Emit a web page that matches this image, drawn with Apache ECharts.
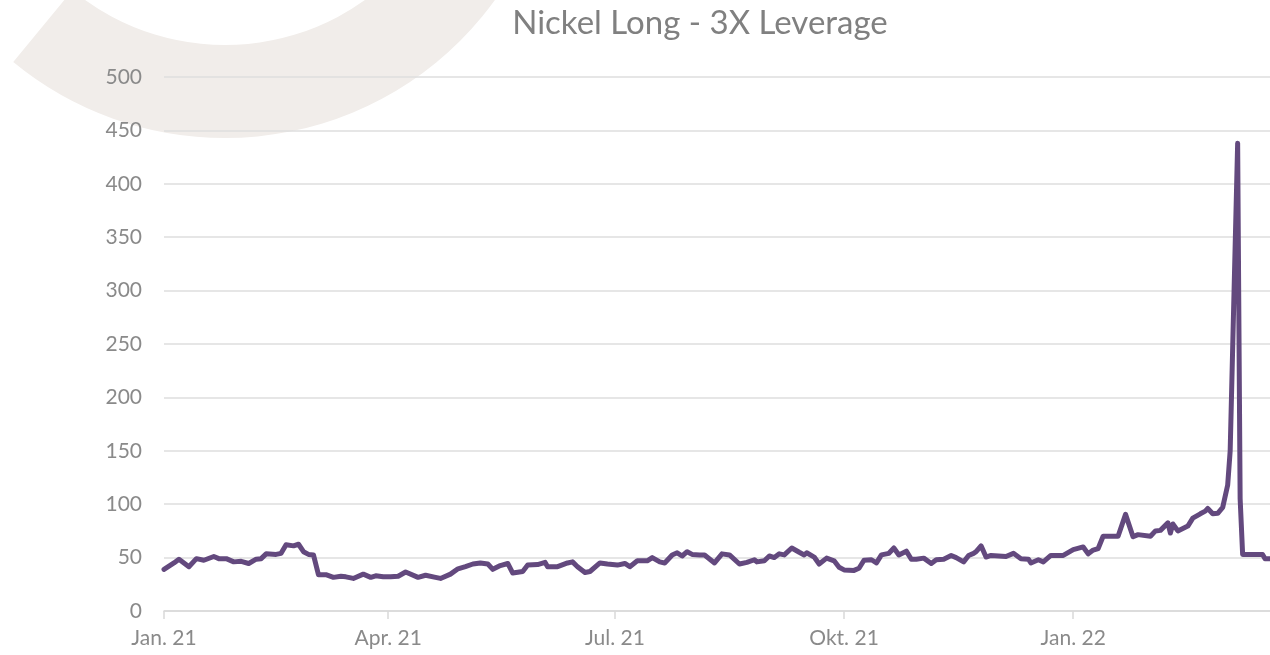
<!DOCTYPE html>
<html>
<head>
<meta charset="utf-8">
<title>Nickel Long - 3X Leverage</title>
<script src="https://cdn.jsdelivr.net/npm/echarts@6/dist/echarts.min.js"></script>
<style>
  html, body { margin: 0; padding: 0; background: #fff; }
  #chart { width: 1270px; height: 655px; }
</style>
</head>
<body>
<div id="chart"></div>
<script>
// values (approximate)
const dates = [
  '2021-01-01', '2021-01-05', '2021-01-07', '2021-01-11', '2021-01-14', '2021-01-17', '2021-01-21', '2021-01-23', '2021-01-26', '2021-01-29',
  '2021-02-01', '2021-02-04', '2021-02-07', '2021-02-09', '2021-02-11', '2021-02-15', '2021-02-17', '2021-02-19', '2021-02-22', '2021-02-24', '2021-02-26', '2021-02-28',
  '2021-03-02', '2021-03-04', '2021-03-07', '2021-03-10', '2021-03-13', '2021-03-15', '2021-03-18', '2021-03-22', '2021-03-25', '2021-03-27', '2021-03-30',
  '2021-04-02', '2021-04-05', '2021-04-08', '2021-04-13', '2021-04-16', '2021-04-20', '2021-04-22', '2021-04-26', '2021-04-29',
  '2021-05-02', '2021-05-05', '2021-05-08', '2021-05-11', '2021-05-13', '2021-05-16', '2021-05-19', '2021-05-21', '2021-05-25', '2021-05-27', '2021-05-31',
  '2021-06-03', '2021-06-04', '2021-06-08', '2021-06-12', '2021-06-14', '2021-06-16', '2021-06-19', '2021-06-21', '2021-06-25', '2021-06-28',
  '2021-07-02', '2021-07-05', '2021-07-07', '2021-07-10', '2021-07-14', '2021-07-16', '2021-07-19', '2021-07-21', '2021-07-24', '2021-07-26', '2021-07-28', '2021-07-30',
  '2021-08-01', '2021-08-04', '2021-08-06', '2021-08-10', '2021-08-13', '2021-08-16', '2021-08-20', '2021-08-23', '2021-08-26', '2021-08-27', '2021-08-30',
  '2021-09-01', '2021-09-03', '2021-09-05', '2021-09-07', '2021-09-10', '2021-09-13', '2021-09-15', '2021-09-16', '2021-09-19', '2021-09-21', '2021-09-24', '2021-09-27', '2021-09-29',
  '2021-10-01', '2021-10-05', '2021-10-07', '2021-10-09', '2021-10-12', '2021-10-14', '2021-10-16', '2021-10-19', '2021-10-21', '2021-10-23', '2021-10-26', '2021-10-28', '2021-10-30',
  '2021-11-02', '2021-11-05', '2021-11-07', '2021-11-10', '2021-11-13', '2021-11-15', '2021-11-18', '2021-11-20', '2021-11-22', '2021-11-23', '2021-11-25', '2021-11-27', '2021-11-29',
  '2021-12-02', '2021-12-05', '2021-12-08', '2021-12-11', '2021-12-14', '2021-12-15', '2021-12-18', '2021-12-20', '2021-12-23', '2021-12-28',
  '2022-01-01', '2022-01-05', '2022-01-07', '2022-01-09', '2022-01-11', '2022-01-13', '2022-01-19', '2022-01-22', '2022-01-25', '2022-01-27',
  '2022-02-01', '2022-02-03', '2022-02-05', '2022-02-08', '2022-02-09', '2022-02-10', '2022-02-12', '2022-02-16', '2022-02-18', '2022-02-21', '2022-02-23', '2022-02-24', '2022-02-26', '2022-02-28',
  '2022-03-02', '2022-03-04', '2022-03-05', '2022-03-08', '2022-03-09', '2022-03-10', '2022-03-14', '2022-03-18', '2022-03-19', '2022-03-23'
]
const values = [
  39, 45, 48.5, 41.5, 49, 47.5, 51, 49, 49, 46,
  46.5, 44.5, 48.5, 49, 53.5, 53, 54, 62, 61, 62.5, 55.5, 53,
  52.5, 34, 34, 31.5, 32.5, 32, 30.5, 34.5, 31.5, 33, 32,
  32, 32.5, 36.5, 31.5, 33.5, 31.5, 30.5, 34.5, 39.5,
  41.5, 44, 45, 44, 39, 42.5, 44.5, 35.5, 37, 43, 43.5,
  45.5, 41.5, 41.5, 45, 46, 41.5, 36, 37, 45, 44,
  43, 44.5, 41.5, 47, 47, 50, 46, 45, 52.5, 54.5, 51.5, 55.5,
  53, 52.5, 52.5, 45, 53.5, 52.5, 44, 45.5, 48, 46, 47,
  51.5, 50, 53.5, 52.5, 59, 55, 52.5, 54.5, 50.5, 44, 49.5, 47, 41,
  38.5, 38, 40, 47.5, 48, 45, 52.5, 54, 59, 52.5, 56, 48.5, 48.5,
  49.5, 44.5, 48, 48.5, 52, 50, 46, 52, 54, 55.5, 61, 50.5, 52,
  51.5, 51, 54, 49, 48.5, 45, 48, 46, 52, 52,
  57.5, 60, 53.5, 57, 58.5, 70, 70, 90.5, 69.5, 71.5,
  70, 75, 75.5, 82.5, 73, 81.5, 75, 79.5, 87, 91, 93.5, 96, 91, 91.5,
  97, 118, 150, 438, 105, 53, 53, 53, 49, 49
]
const tickDates = ['2021-01-01', '2021-04-01', '2021-07-01', '2021-10-01', '2022-01-01']
const tickLabels = ['Jan. 21', 'Apr. 21', 'Jul. 21', 'Okt. 21', 'Jan. 22']

function toTs(s) {
  const p = s.split('-')
  return new Date(+p[0], +p[1] - 1, +p[2]).getTime()
}

const tickTs = tickDates.map(toTs)
const labelOf = {}
tickTs.forEach((t, i) => { labelOf[t] = tickLabels[i] })

const chart = echarts.init(document.getElementById('chart'))
chart.setOption({
  animation: false,
  textStyle: { fontFamily: 'Lato' },
  title: {
    text: 'Nickel Long - 3X Leverage',
    left: 695,
    top: 2,
    textAlign: 'center',
    textStyle: { color: '#808080', fontSize: 33, fontWeight: 'normal', fontFamily: 'Lato' }
  },
  // light watermark arc behind the plot
  graphic: {
    elements: [{
      type: 'sector',
      z: -10,
      silent: true,
      shape: { cx: 225, cy: -195, r0: 240, r: 333, startAngle: 0, endAngle: 2.26 },
      style: { fill: '#f1edea' }
    }]
  },
  // plot runs past the right edge of the canvas, like the original
  grid: { left: 164, top: 77, width: 1116, height: 534, containLabel: false, outerBoundsMode: 'none' },
  // x is a plain value axis in ms so the quarter ticks can be placed exactly
  xAxis: {
    type: 'value',
    min: toTs('2021-01-01'),
    max: toTs('2022-03-25'),
    axisLine: { lineStyle: { color: '#d9d9d9', width: 1.5 } },
    axisTick: { show: true, customValues: tickTs, length: 8, lineStyle: { color: '#d9d9d9', width: 1.5 } },
    axisLabel: {
      customValues: tickTs,
      margin: 17,
      color: '#8a8a8a',
      fontSize: 21,
      fontFamily: 'Lato',
      formatter: (val) => labelOf[val] || ''
    },
    splitLine: { show: false }
  },
  yAxis: {
    type: 'value',
    min: 0,
    max: 500,
    interval: 50,
    axisLine: { show: false },
    axisTick: { show: false },
    axisLabel: { margin: 22, color: '#8a8a8a', fontSize: 21, fontFamily: 'Lato' },
    splitLine: { lineStyle: { color: '#dedede', width: 1.5 } }
  },
  series: [{
    name: 'Nickel Long - 3X Leverage',
    type: 'line',
    data: dates.map((d, i) => [toTs(d), values[i]]),
    showSymbol: false,
    smooth: false,
    lineStyle: { color: '#63497e', width: 5, join: 'round', cap: 'round' }
  }]
})
</script>
</body>
</html>
